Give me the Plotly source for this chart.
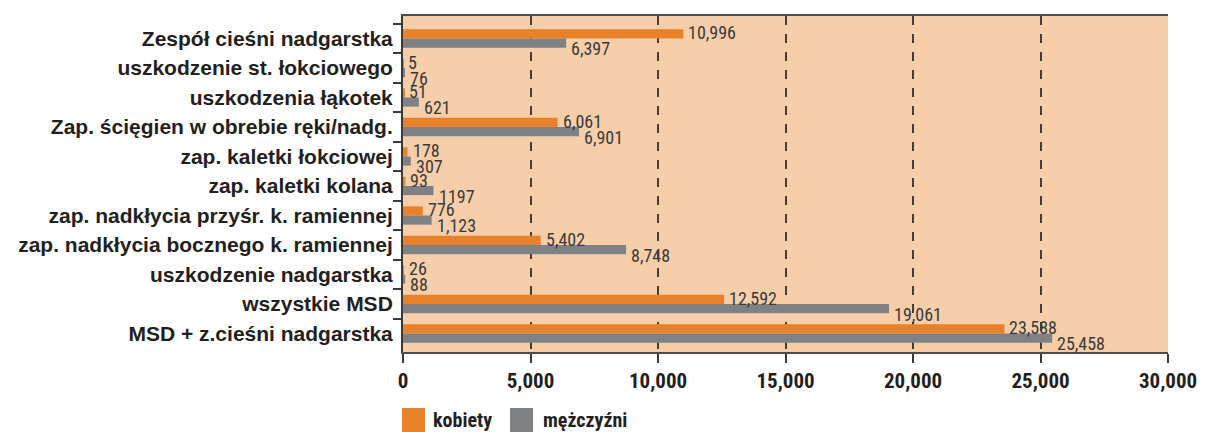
import plotly.graph_objects as go

categories = [
    "Zespół cieśni nadgarstka",
    "uszkodzenie st. łokciowego",
    "uszkodzenia łąkotek",
    "Zap. ścięgien w obrebie ręki/nadg.",
    "zap. kaletki łokciowej",
    "zap. kaletki kolana",
    "zap. nadkłycia przyśr. k. ramiennej",
    "zap. nadkłycia bocznego k. ramiennej",
    "uszkodzenie nadgarstka",
    "wszystkie MSD",
    "MSD + z.cieśni nadgarstka",
]
kobiety = [10996, 5, 51, 6061, 178, 93, 776, 5402, 26, 12592, 23588]
mezczyzni = [6397, 76, 621, 6901, 307, 1197, 1123, 8748, 88, 19061, 25458]
kobiety_labels = ["10,996", "5", "51", "6,061", "178", "93", "776", "5,402", "26", "12,592", "23,588"]
mezczyzni_labels = ["6,397", "76", "621", "6,901", "307", "1197", "1,123", "8,748", "88", "19,061", "25,458"]
x_ticks = [0, 5000, 10000, 15000, 20000, 25000, 30000]
series_names = ["kobiety", "mężczyźni"]

ORANGE = "#E8822A"
GRAY = "#808184"
COND = "Roboto Condensed, Open Sans Condensed, Liberation Sans, sans-serif"
LABEL_FONT = "Liberation Sans, Arial, sans-serif"
TXT = "#231f20"

# page geometry (the html body adds an 8px offset)
OFF = 8
W, H = 1206, 432
PLOT_L, PLOT_R, PLOT_T, PLOT_B = 403, 1168, 16, 352   # page pixels
L = PLOT_L - OFF
T = PLOT_T - OFF
R = W - (PLOT_R - OFF)
B = H - (PLOT_B - OFF)
PW, PH = PLOT_R - PLOT_L, PLOT_B - PLOT_T
def px(xp):
    return (xp - PLOT_L) / PW
def py(yp):
    return (PLOT_B - yp) / PH

fig = go.Figure()
fig.add_trace(go.Bar(y=categories, x=kobiety, orientation="h", name=series_names[0],
                     marker=dict(color=ORANGE, line=dict(width=0)), showlegend=False))
fig.add_trace(go.Bar(y=categories, x=mezczyzni, orientation="h", name=series_names[1],
                     marker=dict(color=GRAY, line=dict(width=0)), showlegend=False))

annotations = []
for c, v, t in zip(categories, kobiety, kobiety_labels):
    annotations.append(dict(x=v, y=c, text=t, showarrow=False, xanchor="left", yanchor="middle",
                            xshift=3, yshift=6,
                            font=dict(family=COND, size=18, color="#3a3a3a")))
for c, v, t in zip(categories, mezczyzni, mezczyzni_labels):
    annotations.append(dict(x=v, y=c, text=t, showarrow=False, xanchor="left", yanchor="middle",
                            xshift=3, yshift=-10,
                            font=dict(family=COND, size=18, color="#3a3a3a")))

# custom legend (large square swatches as in the reference)
shapes = []
legend_items = [(series_names[0], ORANGE, 402, 431), (series_names[1], GRAY, 510, 541)]
for name, col, sx, tx in legend_items:
    shapes.append(dict(type="rect", xref="paper", yref="paper",
                       x0=px(sx), x1=px(sx + 23), y0=py(432), y1=py(408),
                       fillcolor=col, line=dict(width=0), layer="above"))
    annotations.append(dict(xref="paper", yref="paper", x=px(tx), y=py(420), text=name,
                            showarrow=False, xanchor="left", yanchor="middle",
                            font=dict(family=COND, size=20, color=TXT, weight="bold")))

fig.update_layout(
    width=W, height=H,
    margin=dict(l=L, r=R, t=T, b=B),
    paper_bgcolor="white",
    plot_bgcolor="#F6CEAA",
    barmode="group",
    bargap=0.38,
    bargroupgap=0,
    showlegend=False,
    annotations=annotations,
    shapes=shapes,
    font=dict(family=LABEL_FONT, color=TXT),
)
fig.update_xaxes(
    range=[0, 30000], tickvals=x_ticks, tickformat=",",
    showgrid=True, gridcolor="#4a3c30", griddash="dash", gridwidth=1.5,
    showline=True, linecolor="#4d4d4f", linewidth=2, mirror=True,
    ticks="outside", ticklen=9, tickwidth=2, tickcolor="#3a3a3a",
    tickfont=dict(family=COND, size=21, color=TXT, weight="bold"),
    zeroline=False, automargin=False,
)
fig.update_yaxes(
    autorange="reversed", categoryorder="array", categoryarray=categories,
    showline=True, linecolor="#3a3a3a", linewidth=2,
    ticks="outside", tickson="boundaries", ticklen=8, tickwidth=1.5, tickcolor="#3a3a3a",
    tickfont=dict(family=LABEL_FONT, size=21, color=TXT, weight="bold"),
    showgrid=False, ticklabelstandoff=4, automargin=False,
)

fig.write_html("out.html")
